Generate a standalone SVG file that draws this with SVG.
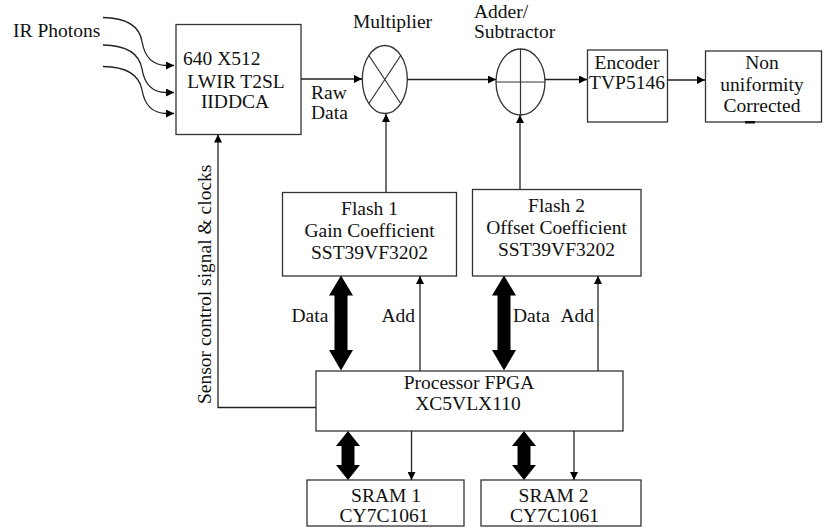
<svg xmlns="http://www.w3.org/2000/svg" width="827" height="529" viewBox="0 0 827 529">
  <style>
    text { font-family: "Liberation Serif", "Times New Roman", serif; font-size: 19.5px; fill: #111; }
    .c { text-anchor: middle; }
    .box { fill: #fff; stroke: #333; stroke-width: 1.3; }
    .op { fill: #fff; stroke: #333; stroke-width: 1.3; }
    .sym { stroke: #333; stroke-width: 1.2; fill: none; }
    .wire { fill: none; stroke: #222; stroke-width: 1.3; }
    .arrow { marker-end: url(#head); }
    .bus { fill: #000; stroke: none; }
  </style>
  <defs>
    <marker id="head" viewBox="0 0 10 10" refX="10" refY="5" markerWidth="9" markerHeight="8" markerUnits="userSpaceOnUse" orient="auto">
      <path d="M0,0 L10,5 L0,10 z" fill="#000"/>
    </marker>
  </defs>

  <rect width="827" height="529" fill="#fff"/>

  <!-- detector array -->
  <g id="sensor">
    <rect class="box" x="176" y="24.5" width="125" height="110"/>
    <text x="183" y="65">640 X512</text>
    <text class="c" x="236" y="88">LWIR T2SL</text>
    <text class="c" x="235" y="108">IIDDCA</text>
  </g>

  <!-- gain multiplier -->
  <g id="multiplier">
    <text x="353" y="28">Multiplier</text>
    <ellipse class="op" cx="384.8" cy="79.5" rx="22.5" ry="34"/>
    <path class="sym" d="M368.9,55.5 L400.7,103.5 M400.7,55.5 L368.9,103.5"/>
  </g>

  <!-- offset adder -->
  <g id="adder">
    <text x="474" y="18">Adder/</text>
    <text x="474" y="38">Subtractor</text>
    <ellipse class="op" cx="520.5" cy="82" rx="24.5" ry="33"/>
    <path class="sym" d="M520.5,49 V115 M496,82 H545"/>
  </g>

  <g id="encoder">
    <rect class="box" x="587.5" y="50" width="80" height="72"/>
    <text class="c" x="627" y="69">Encoder</text>
    <text class="c" x="627" y="89">TVP5146</text>
  </g>

  <g id="nuc-output">
    <rect class="box" x="705.5" y="51" width="116" height="71"/>
    <text class="c" x="762" y="69">Non</text>
    <text class="c" x="762" y="91">uniformity</text>
    <text class="c" x="762" y="112">Corrected</text>
    <rect x="745" y="121" width="10" height="2.5" fill="#111"/>
  </g>

  <g id="flash1">
    <rect class="box" x="282.5" y="192.5" width="174" height="83.5"/>
    <text class="c" x="369.5" y="215">Flash 1</text>
    <text class="c" x="369.5" y="237">Gain Coefficient</text>
    <text class="c" x="369.5" y="259">SST39VF3202</text>
  </g>

  <g id="flash2">
    <rect class="box" x="472.5" y="189.5" width="168.5" height="86.5"/>
    <text class="c" x="556.5" y="212">Flash 2</text>
    <text class="c" x="556.5" y="234">Offset Coefficient</text>
    <text class="c" x="556.5" y="256">SST39VF3202</text>
  </g>

  <g id="fpga">
    <rect class="box" x="316" y="371" width="307" height="60"/>
    <text class="c" x="469" y="389">Processor FPGA</text>
    <text class="c" x="468" y="410">XC5VLX110</text>
  </g>

  <g id="sram1">
    <rect class="box" x="307" y="480" width="157" height="46"/>
    <text class="c" x="386" y="502">SRAM 1</text>
    <text class="c" x="384" y="522">CY7C1061</text>
  </g>

  <g id="sram2">
    <rect class="box" x="481" y="480" width="160" height="46"/>
    <text class="c" x="553.5" y="502">SRAM 2</text>
    <text class="c" x="554.5" y="522">CY7C1061</text>
  </g>

  <g id="connectors">
    <!-- incoming photons -->
    <path class="wire arrow" d="M103,17.5 Q138,18 142,41.5 T166,65.5 L174,65.5"/>
    <path class="wire arrow" d="M103,45 Q138,45.5 142,69 T166,92.5 L174,92.5"/>
    <path class="wire arrow" d="M103,66.5 Q138,67 142,90 T166,113.5 L174,113.5"/>
    <text x="13" y="37">IR Photons</text>

    <!-- pixel data path -->
    <path class="wire arrow" d="M301,79 H362"/>
    <text x="311" y="99">Raw</text>
    <text x="311" y="119">Data</text>
    <path class="wire arrow" d="M407,79.5 H496"/>
    <path class="wire arrow" d="M545,79.5 H587"/>
    <path class="wire arrow" d="M667.5,80 H705"/>

    <!-- coefficients into the arithmetic blocks -->
    <path class="wire arrow" d="M386,192.5 V114"/>
    <path class="wire arrow" d="M520,189.5 V115"/>

    <!-- sensor control from the FPGA -->
    <path class="wire arrow" d="M316,407.5 H218 V134.5"/>
    <text transform="translate(211,404) rotate(-90)">Sensor control signal &amp; clocks</text>

    <!-- flash address lines -->
    <path class="wire arrow" d="M420,371 V276"/>
    <path class="wire arrow" d="M598,371 V276"/>
    <text x="291.5" y="322">Data</text>
    <text x="381.5" y="322">Add</text>
    <text x="513" y="322">Data</text>
    <text x="560.5" y="322">Add</text>

    <!-- flash data buses -->
    <polygon class="bus" points="341,275.5 353,295.5 347.5,295.5 347.5,350 353,350 341,370.5 329,350 334.5,350 334.5,295.5 329,295.5"/>
    <polygon class="bus" points="504,275.5 516,295.5 510.5,295.5 510.5,350 516,350 504,370.5 492,350 497.5,350 497.5,295.5 492,295.5"/>

    <!-- SRAM address lines -->
    <path class="wire arrow" d="M411.5,431 V480"/>
    <path class="wire arrow" d="M574,431 V480"/>

    <!-- SRAM data buses -->
    <polygon class="bus" points="348,431 360,446 354.5,446 354.5,465 360,465 348,480 336,465 341.5,465 341.5,446 336,446"/>
    <polygon class="bus" points="524,431 536,446 530.5,446 530.5,465 536,465 524,480 512,465 517.5,465 517.5,446 512,446"/>
  </g>
</svg>
